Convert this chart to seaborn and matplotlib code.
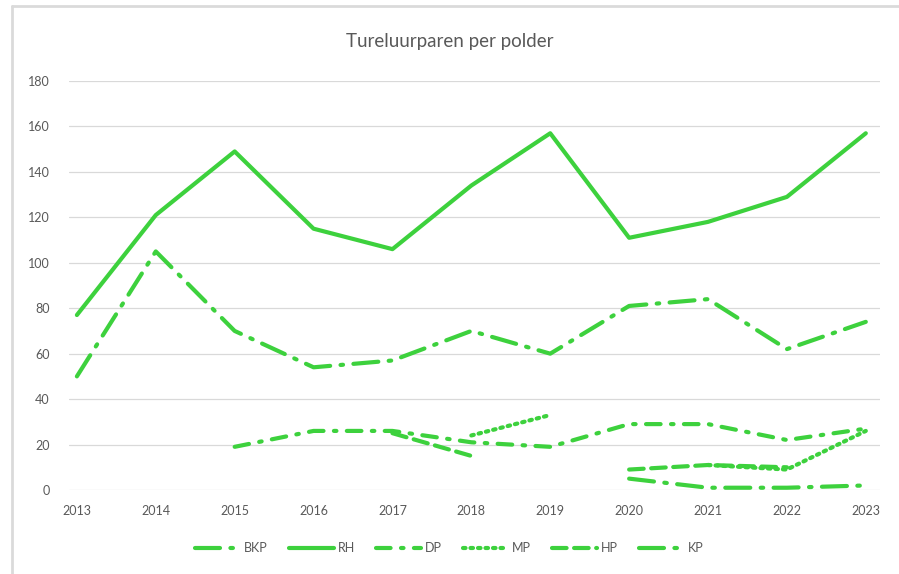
import numpy as np
import pandas as pd
import matplotlib
matplotlib.use("Agg")
import matplotlib.pyplot as plt
import seaborn as sns
from matplotlib.lines import Line2D

# %% data
years = list(range(2013, 2024))
rh  = [77, 121, 149, 115, 106, 134, 157, 111, 118, 129, 157]
bkp = [50, 105, 70, 54, 57, 70, 60, 81, 84, 62, 74]
dp_years = list(range(2015, 2024))
dp  = [19, 26, 26, 21, 19, 29, 29, 22, 27]
mp_years = [2018, 2019, 2021, 2022, 2023]
mp  = [24, 33, 11, 9, 26]
mp_seg = [0, 0, 1, 1, 1]
hp_years = [2017, 2018, 2020, 2021, 2022]
hp  = [25, 15, 9, 11, 10]
hp_seg = [0, 0, 1, 1, 1]
kp_years = [2020, 2021, 2022, 2023]
kp  = [5, 1, 1, 2]

order = ["BKP", "RH", "DP", "MP", "HP", "KP"]

rows = []
def add(name, xs, ys, segs=None):
    for i, (x, y) in enumerate(zip(xs, ys)):
        rows.append({"jaar": x, "paren": y, "polder": name,
                     "seg": f"{name}_{segs[i] if segs else 0}"})

add("BKP", years, bkp)
add("RH", years, rh)
add("DP", dp_years, dp)
add("MP", mp_years, mp, mp_seg)
add("HP", hp_years, hp, hp_seg)
add("KP", kp_years, kp)
df = pd.DataFrame(rows)

# %% style
GREEN = "#3dd13d"
GRID = "#d9d9d9"
TEXT = "#595959"
LW = 3.0

dashes = {
    "BKP": (6, 2.5, 0.6, 2.5),
    "RH": "",
    "DP": (3.5, 2.5, 0.6, 2.5),
    "MP": (0.6, 1.2),
    "HP": (3.5, 1.8),
    "KP": (6, 2.5, 0.6, 2.5),
}

sns.set_theme(style="white")
plt.rcParams["font.family"] = ["Lato", "DejaVu Sans"]

fig = plt.figure(figsize=(8.99, 5.74), dpi=100)
ax = fig.add_axes([69 / 899, 1 - 490 / 574, (880 - 69) / 899, (490 - 81) / 574])

sns.lineplot(data=df, x="jaar", y="paren", hue="polder", style="polder",
             units="seg", estimator=None, hue_order=order, style_order=order,
             palette=[GREEN] * len(order), dashes=dashes, linewidth=LW,
             ax=ax, legend=False)
for ln in ax.lines:
    ln.set_solid_capstyle("round")
    ln.set_dash_capstyle("round")

ax.set_xlim(2012.9, 2023.18)
ax.set_ylim(0, 180)
ax.set_yticks(range(0, 181, 20))
ax.set_xticks(years)
ax.yaxis.grid(True, color=GRID, linewidth=0.9)
ax.xaxis.grid(False)
for s in ax.spines.values():
    s.set_visible(False)
ax.tick_params(axis="both", length=0, labelsize=9, labelcolor=TEXT)
ax.tick_params(axis="y", pad=14)
ax.tick_params(axis="x", pad=11)
ax.set_xlabel("")
ax.set_ylabel("")

fig.text(0.5, 1 - 42 / 574, "Tureluurparen per polder", ha="center", va="center",
         fontsize=13.5, color=TEXT)

handles = []
for n in order:
    h = Line2D([0], [0], color=GREEN, linewidth=LW)
    if n != "RH":
        h.set_dashes(dashes[n])
    h.set_dash_capstyle("round")
    handles.append(h)
fig.legend(handles, order, loc="center", bbox_to_anchor=(0.5, 1 - 548 / 574),
           ncol=6, frameon=False, fontsize=9, labelcolor=TEXT,
           handlelength=3.6, handletextpad=0.3, columnspacing=1.7)

# chart area border like the screenshot
fig.add_artist(Line2D([12 / 899, 12 / 899], [0, 1 - 6 / 574], color="#dadada",
                      linewidth=2, transform=fig.transFigure))
fig.add_artist(Line2D([12 / 899, 1], [1 - 6 / 574, 1 - 6 / 574], color="#dadada",
                      linewidth=2, transform=fig.transFigure))

fig.savefig("out.png", dpi=100)
